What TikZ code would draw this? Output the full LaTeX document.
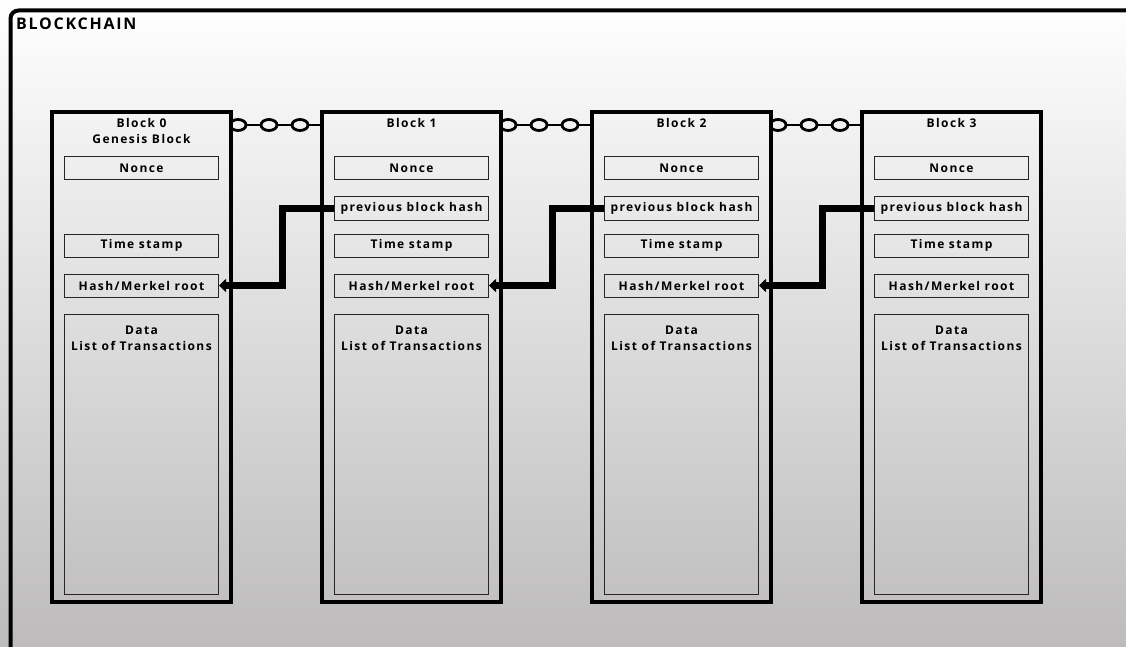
\documentclass[tikz,border=0pt]{standalone}
\usepackage{fontspec}
\setmainfont{Open Sans}[LetterSpace=12]
\newfontfamily\titlefam{Open Sans}[LetterSpace=11]
\usetikzlibrary{arrows.meta,calc}
\definecolor{bgbot}{RGB}{189,187,188}
\definecolor{linkfill}{RGB}{242,242,242}
\newcommand\fieldfont{\fontsize{12}{16}\selectfont\bfseries}
\newcommand\titlefont{\titlefam\fontsize{16}{18}\selectfont\bfseries}
\begin{document}
\begin{tikzpicture}[x=1pt,y=-1pt,
  blockbox/.style={draw=black,line width=4pt,minimum width=179pt,minimum height=490pt,inner sep=0pt},
  field/.style={draw=black!85,line width=1pt,minimum width=154pt,minimum height=23pt,inner sep=0pt,font=\fieldfont},
  datafield/.style={draw=black!85,line width=1pt,minimum width=154pt,minimum height=280pt,inner sep=0pt},
  plaintext/.style={inner sep=0pt,font=\fieldfont,align=center},
  hashlink/.style={line width=7pt,-{Triangle[length=7pt,width=13pt]}},
  chainline/.style={line width=2.5pt},
  chainring/.style={line width=2.8pt,fill=linkfill}
]
\shade[top color=white,bottom color=bgbot] (0,0) rectangle (1126,647);
\useasboundingbox (0,0) rectangle (1126,647);
\draw[line width=4pt,rounded corners=8pt] (10.5,700) |- (1200,10.5);
\node[anchor=north west,inner sep=0pt,font=\titlefont] (title) at (16,18) {BLOCKCHAIN};

\foreach \i/\cx in {0/141.5,1/411.5,2/681.5,3/951.5} {
  \node[blockbox] (b\i) at (\cx,357) {};
  \node[field] (n\i) at (\cx,168.5) {Nonce};
  \node[field] (t\i) at (\cx,245.5) {Time stamp};
  \node[field] (h\i) at (\cx,285.5) {Hash/Merkel root};
  \node[datafield] (d\i) at (\cx,454) {};
  \node[plaintext,anchor=north] (dl\i) at ([yshift=-12pt]d\i.north) {Data\\List of Transactions};
}
\node[plaintext,anchor=north] (bt0) at ([yshift=-8pt]b0.north) {Block 0\\Genesis Block};
\foreach \i in {1,2,3} {
  \node[plaintext,anchor=north] (bt\i) at ([yshift=-8pt]b\i.north) {Block \i};
  \node[field,minimum height=24pt] (p\i) at ($(n\i)+(0,39.5)$) {previous block hash};
}

% chains
\foreach \a/\b in {0/1,1/2,2/3} {
  \coordinate (ca\a) at ([yshift=-15pt]b\a.north east);
  \coordinate (cb\a) at ([yshift=-15pt]b\b.north west);
  \begin{scope}
    \clip (ca\a |- 0,100) rectangle (cb\a |- 0,150);
    \draw[chainline] (ca\a) -- (cb\a);
    \foreach \off in {5,36,67,98} {
      \draw[chainring] ($(ca\a)+(\off,0)$) ellipse [x radius=8pt,y radius=5.5pt];
    }
  \end{scope}
}
\foreach \a/\b in {0/1,1/2,2/3} {
  \draw[hashlink] (p\b.west) -- ++(-52,0) |- (h\a.east);
}
\end{tikzpicture}
\end{document}
